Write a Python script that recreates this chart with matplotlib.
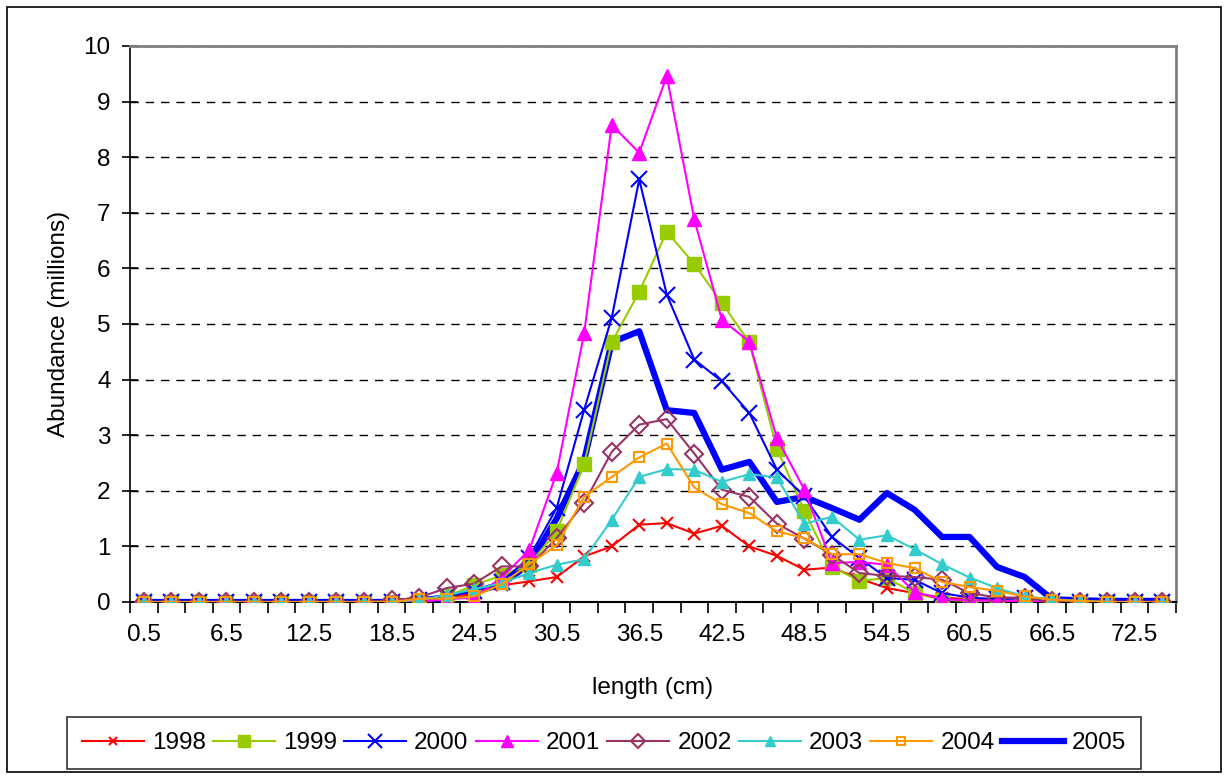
import matplotlib
matplotlib.use("Agg")
import matplotlib.pyplot as plt
from matplotlib.patches import Rectangle

plt.rcParams['font.family'] = ['Liberation Sans', 'DejaVu Sans']

# length classes (cm)
lengths = [0.5 + 2 * i for i in range(38)]

# abundance by year (millions)
y1998 = [0] * 10 + [0.02, 0.07, 0.15, 0.30, 0.37, 0.45, 0.82, 1.00, 1.39, 1.42, 1.23, 1.37, 1.00, 0.83,
                    0.58, 0.62, 0.42, 0.25, 0.16, 0.08, 0.05, 0.03, 0.02, 0, 0, 0, 0, 0]
y1999 = [0] * 10 + [0.03, 0.10, 0.30, 0.48, 0.67, 1.27, 2.48, 4.67, 5.58, 6.66, 6.08, 5.38, 4.67, 2.76,
                    1.64, 0.63, 0.38, 0.43, 0.16, 0.04, 0.02, 0.01, 0.01, 0, 0, 0, 0, 0]
y2000 = [0] * 10 + [0.03, 0.10, 0.20, 0.36, 0.80, 1.69, 3.46, 5.11, 7.60, 5.53, 4.36, 3.97, 3.40, 2.38,
                    1.90, 1.17, 0.79, 0.43, 0.40, 0.16, 0.08, 0.05, 0.07, 0.02, 0, 0, 0, 0]
y2001 = [0] * 10 + [0.00, 0.05, 0.08, 0.44, 0.93, 2.32, 4.84, 8.58, 8.08, 9.46, 6.88, 5.08, 4.68, 2.95,
                    2.02, 0.70, 0.72, 0.67, 0.18, 0.05, 0.03, 0.02, 0.01, 0, 0, 0, 0, 0]
y2002 = [0] * 9 + [0.03, 0.08, 0.25, 0.33, 0.64, 0.64, 1.15, 1.78, 2.70, 3.19, 3.29, 2.67, 2.02, 1.89,
                   1.41, 1.14, 0.85, 0.52, 0.47, 0.45, 0.40, 0.16, 0.08, 0.08, 0.02, 0, 0, 0, 0]
y2003 = [0] * 10 + [0.04, 0.12, 0.23, 0.34, 0.52, 0.67, 0.77, 1.48, 2.25, 2.39, 2.38, 2.16, 2.30, 2.24,
                    1.41, 1.53, 1.12, 1.20, 0.95, 0.68, 0.44, 0.25, 0.10, 0.05, 0.02, 0, 0, 0]
y2004 = [0] * 10 + [0.06, 0.06, 0.10, 0.32, 0.68, 1.02, 1.89, 2.25, 2.60, 2.85, 2.06, 1.76, 1.60, 1.27,
                    1.15, 0.86, 0.86, 0.70, 0.61, 0.36, 0.27, 0.20, 0.10, 0.04, 0.02, 0, 0, 0]
y2005 = [0] * 10 + [0.03, 0.08, 0.18, 0.32, 0.68, 1.50, 2.55, 4.67, 4.87, 3.45, 3.40, 2.38, 2.52, 1.80,
                    1.89, 1.69, 1.48, 1.96, 1.66, 1.17, 1.17, 0.63, 0.45, 0.05, 0.03, 0.02, 0.02, 0.02]

FS = 17.5

fig = plt.figure(figsize=(12.28, 7.77), dpi=100)
ax = fig.add_axes([130 / 1228, 1 - 602 / 777, 1046 / 1228, 556 / 777])

x = list(range(len(lengths)))

ax.plot(x, y1998, color='#FF0000', lw=1.5, marker='x', ms=8, mew=1.5, label='1998', zorder=5)
ax.plot(x, y1999, color='#99CC00', lw=1.5, marker='s', ms=10, label='1999', zorder=5)
ax.plot(x, y2000, color='#0000FF', lw=1.5, marker='x', ms=12, mew=1.5, label='2000', zorder=5)
ax.plot(x, y2001, color='#FF00FF', lw=1.5, marker='^', ms=10, label='2001', zorder=5)
ax.plot(x, y2002, color='#993366', lw=1.5, marker='D', ms=9, mfc='none', mew=1.5, label='2002', zorder=5)
ax.plot(x, y2003, color='#33CCCC', lw=1.5, marker='^', ms=9, label='2003', zorder=5)
ax.plot(x, y2004, color='#FF9900', lw=1.5, marker='s', ms=7, mfc='none', mew=1.5, label='2004', zorder=5)
ax.plot(x, y2005, color='#0000FF', lw=4.5, label='2005', zorder=4)

ax.set_xlim(-0.5, len(lengths) - 0.5)
ax.set_ylim(0, 10)
ax.set_yticks(range(0, 11))

# ticks between categories, labels on every third class
ax.set_xticks([i - 0.5 for i in range(len(lengths) + 1)])
ax.set_xticklabels([])
ax.set_xticks(x[::3], minor=True)
ax.set_xticklabels([f'{v:g}' for v in lengths[::3]], minor=True)
ax.tick_params(axis='x', which='major', direction='out', length=8, width=1.2)
ax.tick_params(axis='x', which='minor', length=0, pad=16, labelsize=FS)
ax.tick_params(axis='y', direction='inout', length=12, width=1.2, pad=8, labelsize=FS)

ax.grid(axis='y', color='black', ls=(0, (6, 5)), lw=1)
ax.spines['left'].set_linewidth(1.2)
ax.spines['bottom'].set_linewidth(1.5)
ax.spines['top'].set_color('#808080')
ax.spines['right'].set_color('#808080')
ax.spines['top'].set_linewidth(2)
ax.spines['right'].set_linewidth(2)

ax.set_xlabel('length (cm)', fontsize=FS, labelpad=22)
ax.set_ylabel('Abundance (millions)', fontsize=FS, labelpad=10)

leg = fig.legend(loc='center', bbox_to_anchor=(604 / 1228, 1 - 743 / 777), ncol=8, fontsize=FS,
                 frameon=True, fancybox=False, edgecolor='black', handlelength=2.55,
                 handletextpad=0.33, columnspacing=0.3, borderpad=0.6, markerscale=0.8)
leg.get_frame().set_linewidth(1.2)

fig.patches.append(Rectangle((7 / 1228, 5 / 777), 1214 / 1228, 765 / 777, transform=fig.transFigure,
                             fill=False, edgecolor='black', lw=1.2))

fig.savefig('out.png', dpi=100)
